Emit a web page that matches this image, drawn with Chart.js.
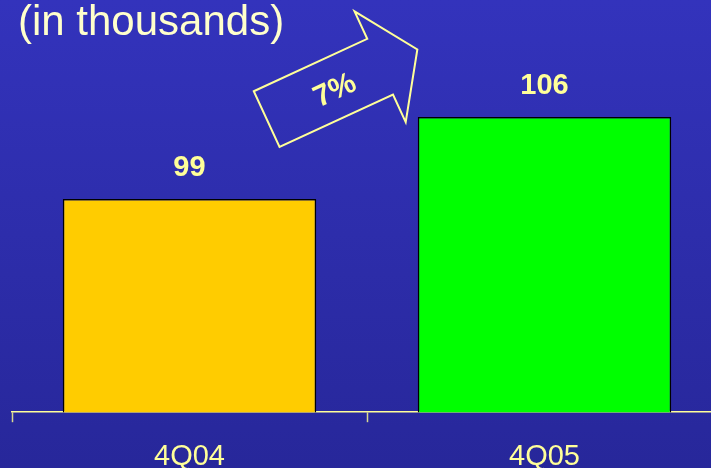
<!DOCTYPE html>
<html>
<head>
<meta charset="utf-8">
<script src="https://cdn.jsdelivr.net/npm/chart.js@4/dist/chart.umd.min.js"></script>
<style>
  html, body { margin: 0; padding: 0; overflow: hidden; background: #2c2cab; }
  #wrap { width: 711px; height: 468px; overflow: hidden; position: relative; }
  canvas { display: block; }
</style>
</head>
<body>
<div id="wrap"><canvas id="c" width="722" height="491"></canvas></div>
<script>
// Quarterly totals, in thousands
const categories = ['4Q04', '4Q05'];
const values = [99, 106];
const barColors = ['#FFCC00', '#00FF00'];
const subtitle = '(in thousands)';

const textYellow = '#FFFF99';
const growthPct = Math.round((values[1] / values[0] - 1) * 100);

// Blue vertical gradient behind everything
const backdrop = {
  id: 'backdrop',
  beforeDraw(chart) {
    const { ctx, width, height } = chart;
    const g = ctx.createLinearGradient(0, 0, 0, 468);
    g.addColorStop(0, '#3333BC');
    g.addColorStop(1, '#27279A');
    ctx.save();
    ctx.fillStyle = g;
    ctx.fillRect(0, 0, width, height);
    ctx.restore();
  }
};

// Heading text in the top-left corner
const heading = {
  id: 'heading',
  afterDraw(chart) {
    const ctx = chart.ctx;
    ctx.save();
    ctx.fillStyle = '#FFFFCC';
    ctx.font = '42px "Liberation Sans", Arial, sans-serif';
    ctx.textBaseline = 'alphabetic';
    ctx.textAlign = 'left';
    ctx.fillText(subtitle, 18, 35);
    ctx.restore();
  }
};

// Value labels above each bar
const valueLabels = {
  id: 'valueLabels',
  afterDatasetsDraw(chart) {
    const ctx = chart.ctx;
    const meta = chart.getDatasetMeta(0);
    ctx.save();
    ctx.fillStyle = textYellow;
    ctx.font = 'bold 29px "Liberation Sans", Arial, sans-serif';
    ctx.textAlign = 'center';
    ctx.textBaseline = 'middle';
    meta.data.forEach((bar, i) => {
      ctx.fillText(String(values[i]), bar.x, bar.y - 31);
    });
    ctx.restore();
  }
};

// Outlined growth arrow between the two bars
const growthArrow = {
  id: 'growthArrow',
  afterDatasetsDraw(chart) {
    const ctx = chart.ctx;
    const xs = chart.scales.x, ys = chart.scales.y;
    const cx = (xs.getPixelForValue(0) + xs.getPixelForValue(1)) / 2 - 25;
    const cy = ys.getPixelForValue(108.8);
    const angle = -24.8 * Math.PI / 180;
    // local shape: tail at -83, shaft to 42, tip at 83
    const shaftHalf = 30.7, headHalf = 61, tailX = -83, neckX = 42, tipX = 83;
    ctx.save();
    ctx.translate(cx, cy);
    ctx.rotate(angle);
    ctx.beginPath();
    ctx.moveTo(tailX, -shaftHalf);
    ctx.lineTo(neckX, -shaftHalf);
    ctx.lineTo(neckX, -headHalf);
    ctx.lineTo(tipX, 0);
    ctx.lineTo(neckX, headHalf);
    ctx.lineTo(neckX, shaftHalf);
    ctx.lineTo(tailX, shaftHalf);
    ctx.closePath();
    ctx.strokeStyle = textYellow;
    ctx.lineWidth = 2;
    ctx.lineJoin = 'miter';
    ctx.stroke();
    ctx.fillStyle = textYellow;
    ctx.font = 'bold 30px "Liberation Sans", Arial, sans-serif';
    ctx.textAlign = 'center';
    ctx.textBaseline = 'middle';
    ctx.fillText(growthPct + '%', -9, 3);
    ctx.restore();
  }
};

new Chart(document.getElementById('c'), {
  type: 'bar',
  data: {
    labels: categories,
    datasets: [{
      data: values,
      backgroundColor: barColors,
      borderColor: '#000000',
      borderWidth: 1.5,
      barPercentage: 0.714,
      categoryPercentage: 1.0
    }]
  },
  options: {
    responsive: false,
    animation: false,
    layout: { padding: { left: 12, right: 0, top: 0, bottom: 0 } },
    plugins: {
      legend: { display: false },
      title: { display: false },
      tooltip: { enabled: false }
    },
    scales: {
      x: {
        z: 1,
        grid: {
          display: true,
          drawOnChartArea: false,
          drawTicks: true,
          tickLength: 10,
          tickWidth: 1.5,
          tickColor: '#D8D890',
          offset: true
        },
        border: { display: true, color: textYellow, width: 1.5 },
        ticks: {
          color: textYellow,
          padding: 17,
          font: { family: '"Liberation Sans", Arial, sans-serif', size: 29 }
        }
      },
      y: {
        display: false,
        min: 80.8,
        max: 116
      }
    }
  },
  plugins: [backdrop, heading, valueLabels, growthArrow]
});
</script>
</body>
</html>
